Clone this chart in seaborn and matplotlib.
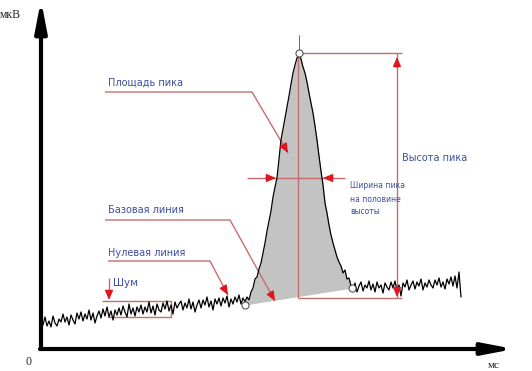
import numpy as np
import matplotlib
matplotlib.use("Agg")
import matplotlib.pyplot as plt
import seaborn as sns

# signal readings (arbitrary units: time 0..472, signal 0..347)
base_left = [30, 24, 32, 23, 28, 22, 33, 26, 23, 30,
             27, 35, 27, 32, 24, 34, 29, 25, 36, 30,
             37, 28, 35, 30, 39, 29, 36, 26, 33, 38,
             31, 40, 33, 42, 32, 38, 29, 39, 34, 41,
             34, 43, 37, 32, 45, 35, 41, 33, 42, 37,
             44, 35, 42, 37, 47, 36, 43, 34, 45, 39,
             37, 46, 40, 48, 38, 44, 35, 47, 41, 45,
             48, 39, 46, 41, 50, 40, 47, 37, 44, 49,
             41, 49, 44, 52, 42, 48, 39, 50, 45, 51,
             43, 51, 46, 53, 42, 50, 45, 52, 47, 54,
             45, 51, 47]
peak = [52, 49, 57, 61, 70, 72, 80, 86, 96, 106,
        118, 128, 138, 152, 162, 171, 190, 209, 220, 231,
        242, 253, 265, 276, 284, 291, 294, 290, 282, 276,
        267, 256, 246, 236, 223, 209, 193, 178, 164, 146,
        136, 124, 114, 106, 99, 92, 87, 83, 76, 79,
        70, 71, 63]
base_right = [60, 66, 57, 63, 67, 58, 64, 61, 68, 59,
              65, 57, 67, 61, 64, 56, 66, 62, 59, 67,
              61, 68, 58, 64, 53, 66, 62, 69, 59, 64,
              68, 60, 67, 63, 70, 59, 66, 62, 69, 64,
              61, 69, 64, 71, 62, 67, 60, 70, 65, 72,
              63, 73, 61, 77, 52]

t_left = np.arange(0, 206, 2)
t_peak = np.arange(206, 312, 2)
t_right = np.arange(312, 422, 2)

t = np.concatenate([t_left, t_peak, t_right])
signal = np.array(base_left + peak + base_right)

# peak markers
peak_start = (204, 44)
peak_end = (311, 61)
peak_top = (258, 296)
half_height = 171
base_at_top = 51

line_red = "#c66e6e"
head_red = "#e0161e"
text_blue = "#3d4f9e"

sns.set_style("white")
plt.rcParams["font.family"] = ["DejaVu Sans"]

fig = plt.figure(figsize=(5.32, 3.71), dpi=100)
ax = fig.add_axes([0, 0, 1, 1])
ax.set_xlim(-41, 491)
ax.set_ylim(-22, 349)
ax.axis("off")

# peak area
mask = (t >= peak_start[0]) & (t <= peak_end[0])
chord = np.interp(t[mask], [peak_start[0], peak_end[0]], [peak_start[1], peak_end[1]])
ax.fill_between(t[mask], chord, signal[mask], color="#c3c3c3", lw=0, zorder=1)

# signal
sns.lineplot(x=t, y=signal, ax=ax, color="black", lw=0.9, zorder=4)


def red_line(xs, ys):
    ax.plot(xs, ys, color=line_red, lw=1.0, zorder=3, solid_capstyle="butt")


def red_head(tip, frm):
    ax.annotate("", xy=tip, xytext=frm, zorder=5,
                arrowprops=dict(arrowstyle="-|>,head_length=0.7,head_width=0.3",
                                color=head_red, lw=1.0, mutation_scale=8,
                                shrinkA=0, shrinkB=0))


# peak height
red_line([peak_top[0], 361], [peak_top[1], peak_top[1]])
red_line([peak_top[0] - 1, 361], [base_at_top, base_at_top])
red_line([356, 356], [base_at_top, peak_top[1]])
red_head((356, 292), (356, 282))
red_head((356, 52), (356, 62))
red_line([peak_top[0] - 1, peak_top[0] - 1], [base_at_top, peak_top[1]])
ax.plot([peak_top[0], peak_top[0]], [299, 314], color="#555555", lw=0.6, zorder=3)

# width at half height
red_line([206, 304], [half_height, half_height])
red_head((235, half_height), (225, half_height))
red_head((282, half_height), (292, half_height))

# leaders
red_line([64, 211, 247], [257, 257, 196])
red_head((247, 196), (243, 203))
red_line([64, 189, 234], [129, 129, 48])
red_head((234, 48), (230, 55))
red_line([67, 169, 187], [88, 88, 54])
red_head((187, 54), (183, 61))

# noise
red_line([68, 68], [71, 56])
red_head((68, 49), (68, 57))
red_line([61, 130, 130, 67], [48, 48, 32, 32])

ax.scatter([peak_start[0], peak_end[0], peak_top[0]],
           [peak_start[1], peak_end[1], peak_top[1]],
           s=26, facecolor="white", edgecolor="#555555", lw=0.8, zorder=6)

# axes arrows
for tip in [(0, 349), (473, 0)]:
    ax.annotate("", xy=tip, xytext=(0, 0), zorder=7,
                arrowprops=dict(arrowstyle="-|>,head_length=1.3,head_width=0.25",
                                color="black", lw=3, mutation_scale=14,
                                shrinkA=0, shrinkB=0))
ax.plot([-1.5, 0], [0, 0], color="black", lw=3, zorder=7)

serif = ["Liberation Serif", "DejaVu Serif"]
ax.text(-41, 334, "мкВ", family=serif, fontsize=8.5, va="center", ha="left")
ax.text(-13, -13, "0", family=serif, fontsize=8.5, va="center", ha="center")
ax.text(453, -17, "мс", family=serif, fontsize=8, va="center", ha="center")

ax.text(67, 266, "Площадь пика", color=text_blue, fontsize=7, va="center")
ax.text(67, 139, "Базовая линия", color=text_blue, fontsize=7, va="center")
ax.text(67, 96, "Нулевая линия", color=text_blue, fontsize=7, va="center")
ax.text(72, 66, "Шум", color=text_blue, fontsize=7.5, va="center")
ax.text(361, 191, "Высота пика", color=text_blue, fontsize=7, va="center")
ax.text(309, 163, "Ширина пика", color=text_blue, fontsize=5.5, va="center")
ax.text(309, 150, "на половине", color=text_blue, fontsize=5.5, va="center")
ax.text(309, 138, "высоты", color=text_blue, fontsize=5.5, va="center")

fig.savefig("out.png", dpi=100)
